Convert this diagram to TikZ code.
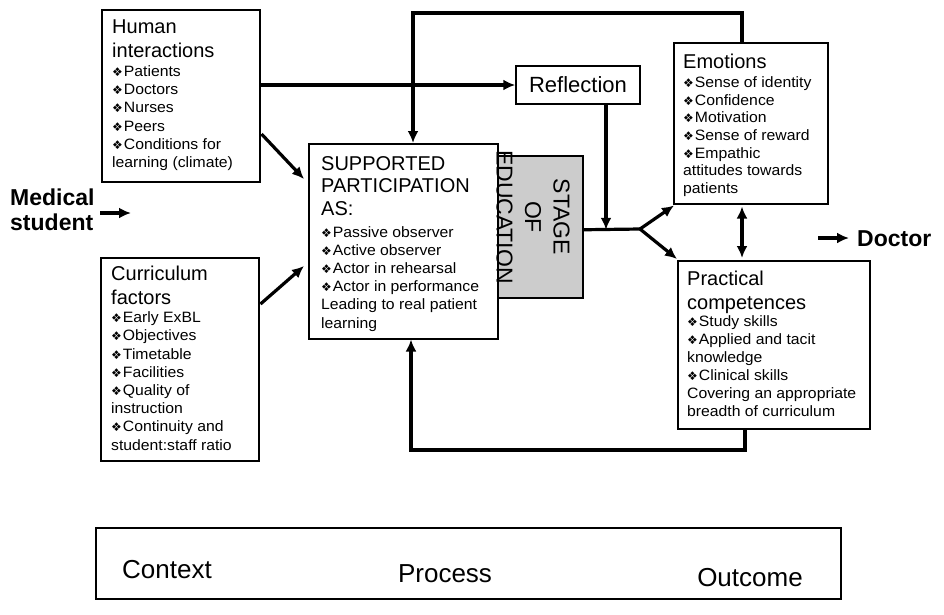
\documentclass[tikz,border=0pt]{standalone}
\usepackage{fontspec}
\setmainfont{Liberation Sans}
\newfontfamily\dvs{DejaVu Sans}
\newfontfamily\bodyf[FakeStretch=1.05]{Liberation Sans}
\usetikzlibrary{arrows.meta,calc}
\newcommand\bul{{\dvs\fontsize{12}{12}\selectfont\char"2756}\hspace{1pt}}
\newcommand\blk[2]{\begin{minipage}[t]{#1}\raggedright #2\end{minipage}}
\newcommand\tfs{\fontsize{20}{24.5}\selectfont}
\newcommand\bfs{\bodyf\fontsize{15}{18.2}\selectfont}
\tikzset{
  box/.style={draw, line width=1.5pt, anchor=north west, inner sep=0pt},
  txt/.style={anchor=base west, inner sep=0pt},
  arr/.style={line width=3.2pt, -{Latex[length=12pt,width=11pt]}},
  ln/.style={line width=3.2pt}
}
\begin{document}
\begin{tikzpicture}[x=1pt,y=-1pt]
\useasboundingbox (0,0) rectangle (944,614);
% boxes
\node[box, minimum width=158pt, minimum height=172pt] (hum) at (101,9) {};
\node[box, minimum width=158pt, minimum height=203pt] (cur) at (100,257) {};
\node[box, minimum width=189pt, minimum height=195pt] (sup) at (308,143) {};
\node[box, minimum width=85pt, minimum height=142pt, fill=gray!40] (stage) at (497,155) {};
\node[draw, line width=1.5pt, minimum width=124pt, minimum height=38pt, inner sep=0pt,
      font=\fontsize{22}{26}\selectfont] (refl) at (578,85) {Reflection};
\node[box, minimum width=154pt, minimum height=161pt] (emo) at (673,42) {};
\node[box, minimum width=192pt, minimum height=168pt] (prac) at (677,260) {};
\node[box, minimum width=745pt, minimum height=71pt] (ctx) at (95,527) {};
% texts
\node[txt] (humT) at (112,33) {\blk{150pt}{\tfs Human\\interactions\par\vspace{0.8pt}\bfs
  \bul Patients\\\bul Doctors\\\bul Nurses\\\bul Peers\\\bul Conditions for\\learning (climate)}};
\node[txt] (curT) at (111,280) {\blk{150pt}{\tfs Curriculum\\factors\par\bfs
  \bul Early ExBL\\\bul Objectives\\\bul Timetable\\\bul Facilities\\\bul Quality of\\instruction\\\bul Continuity and\\student:staff ratio}};
\node[txt] (supT) at (321,170) {\blk{180pt}{\fontsize{20}{22.5}\selectfont SUPPORTED\\PARTICIPATION\\AS:\par\vspace{3.8pt}\bfs
  \bul Passive observer\\\bul Active observer\\\bul Actor in rehearsal\\\bul Actor in performance\\Leading to real patient\\learning}};
\node[txt] (emoT) at (683,68) {\blk{150pt}{\tfs Emotions\par\vspace{2pt}\bodyf\fontsize{15}{17.6}\selectfont
  \bul Sense of identity\\\bul Confidence\\\bul Motivation\\\bul Sense of reward\\\bul Empathic\\attitudes towards\\patients}};
\node[txt] (pracT) at (687,285) {\blk{185pt}{\tfs Practical\\competences\par\vspace{-1pt}\bodyf\fontsize{15}{18}\selectfont
  \bul Study skills\\\bul Applied and tacit\\knowledge\\\bul Clinical skills\\Covering an appropriate\\breadth of curriculum}};
\node[rotate=-90, align=center, inner sep=0pt, font=\fontsize{23}{28.5}\selectfont] (stT) at (533,217) {STAGE\\OF\\EDUCATION};
\node[txt, font=\bfseries] (med) at (10,205) {\blk{100pt}{\fontsize{23}{25}\selectfont Medical\\student}};
\node[txt, font=\bfseries\fontsize{23}{26}\selectfont] (doc) at (857,246) {Doctor};
\node[anchor=center, inner sep=0pt, font=\fontsize{26}{30}\selectfont] (c1) at (167,570) {Context};
\node[anchor=center, inner sep=0pt, font=\fontsize{26}{30}\selectfont] (c2) at (445,574) {Process};
\node[anchor=center, inner sep=0pt, font=\fontsize{26}{30}\selectfont] (c3) at (750,578) {Outcome};
% connectors
\coordinate (m1) at (100,213); \coordinate (m2) at (131,213);
\draw[arr] (m1) -- (m2);
\coordinate (d1) at (818,238); \coordinate (d2) at (849,238);
\draw[arr] (d1) -- (d2);
\coordinate (tl) at (413,13); \coordinate (tr) at (742,13);
\draw[arr, line join=miter] ($(emo.north west)+(69,0)$) -- (tr) -- (tl) -- (tl |- sup.north);
\coordinate (bl) at (411,450); \coordinate (br) at (745,450);
\draw[arr, line join=miter] ($(prac.south west)+(68,0)$) -- (br) -- (bl) -- (bl |- sup.south);
\draw[arr] (hum.east |- refl.west) -- (refl.west);
\draw[arr] ($(hum.north east)+(1,125)$) -- ($(sup.north west)+(-4,36)$);
\draw[arr] ($(cur.north east)+(1,47)$) -- ($(sup.north west)+(-4,123)$);
\coordinate (j0) at ($(stage.east)+(0,3)$);
\coordinate (jc) at (640,229);
\draw[ln] (j0) -- (jc);
\coordinate (r1) at ($(refl.south)+(28,0)$);
\draw[arr] (r1) -- (r1 |- j0);
\draw[arr] (jc) -- ($(emo.south west)+(1,1)$);
\draw[arr] (jc) -- ($(prac.north west)+(0,-1)$);
\draw[line width=3.2pt, {Latex[length=12pt,width=11pt]}-{Latex[length=12pt,width=11pt]}] ($(emo.south west)+(69,2)$) -- ($(prac.north west)+(65,-2)$);
\end{tikzpicture}
\end{document}
